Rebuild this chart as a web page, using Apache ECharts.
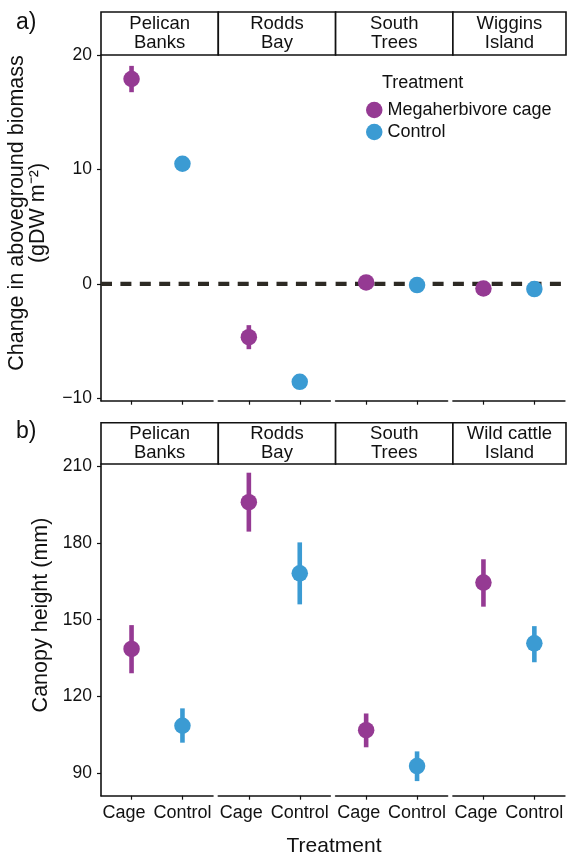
<!DOCTYPE html>
<html>
<head>
<meta charset="utf-8">
<script src="https://cdn.jsdelivr.net/npm/echarts@6/dist/echarts.min.js"></script>
<style>
html,body{margin:0;padding:0;background:#fff;}
#chart{width:567px;height:855px;}
</style>
</head>
<body>
<div id="chart"></div>
<script>
// ---------- data ----------
const sitesA = ['Pelican\nBanks', 'Rodds\nBay', 'South\nTrees', 'Wiggins\nIsland'];
const sitesB = ['Pelican\nBanks', 'Rodds\nBay', 'South\nTrees', 'Wild cattle\nIsland'];
const treatmentLabels = ['Cage', 'Control'];
const legendNames = ['Megaherbivore cage', 'Control'];

// panel a: change in aboveground biomass (gDW m^-2)
const biomassCageMean = [17.9, -4.65, 0.13, -0.4];
const biomassCageLo   = [16.75, -5.7, -0.15, -0.65];
const biomassCageHi   = [19.05, -3.6, 0.4, -0.15];
const biomassCtrlMean = [10.5, -8.55, -0.1, -0.45];
const biomassCtrlLo   = [10.25, -8.8, -0.35, -0.7];
const biomassCtrlHi   = [10.75, -8.3, 0.15, -0.2];
const biomassTicks = [-10, 0, 10, 20];

// panel b: canopy height (mm)
const heightCageMean = [138.6, 195.9, 106.9, 164.5];
const heightCageLo   = [129.1, 184.4, 100.2, 155.1];
const heightCageHi   = [147.9, 207.4, 113.4, 173.6];
const heightCtrlMean = [108.6, 168.1, 92.85, 140.8];
const heightCtrlLo   = [102.0, 156.0, 87.0, 133.4];
const heightCtrlHi   = [115.4, 180.2, 98.6, 147.5];
const heightTicks = [90, 120, 150, 180, 210];

// ---------- style / layout ----------
const PURPLE = '#953a93';
const BLUE = '#3b9bd3';
const INK = '#111111';
const FONT = '"Liberation Sans", Arial, Helvetica, sans-serif';
const FACET_LEFT0 = 101, FACET_STEP = 117.3, FACET_W = 112, RIGHT_EDGE = 566;
const panels = [
  {top: 55, height: 345.7, stripTop: 12, yMin: -10.2, yMax: 20.0, ticks: biomassTicks, sites: sitesA,
   cage: [biomassCageMean, biomassCageLo, biomassCageHi], ctrl: [biomassCtrlMean, biomassCtrlLo, biomassCtrlHi],
   zeroLine: true, showX: false},
  {top: 464, height: 331.7, stripTop: 422.7, yMin: 81.3, yMax: 210.8, ticks: heightTicks, sites: sitesB,
   cage: [heightCageMean, heightCageLo, heightCageHi], ctrl: [heightCtrlMean, heightCtrlLo, heightCtrlHi],
   zeroLine: false, showX: true}
];

const grid = [], xAxis = [], yAxis = [], series = [], graphic = [], extraX = [];

function errRender(color) {
  return function (params, api) {
    const x = api.value(0);
    const p1 = api.coord([x, api.value(1)]);
    const p2 = api.coord([x, api.value(2)]);
    return {type: 'line', shape: {x1: p1[0], y1: p1[1], x2: p2[0], y2: p2[1]},
            style: {stroke: color, lineWidth: 4.6}};
  };
}
const labelStyle = {fontFamily: FONT, fontSize: 18, color: INK, margin: 8};

panels.forEach((P, pi) => {
  for (let f = 0; f < 4; f++) {
    const idx = grid.length;
    const left = FACET_LEFT0 + f * FACET_STEP;
    grid.push({left: left, top: P.top, width: FACET_W, height: P.height});
    xAxis.push({
      type: 'value', gridIndex: idx, min: 0.4, max: 2.6, position: 'bottom',
      axisLine: {show: true, onZero: false, lineStyle: {color: INK, width: 1.6}},
      axisTick: {show: true, length: 4, customValues: [1, 2], lineStyle: {color: INK, width: 1.2}},
      axisLabel: Object.assign({show: P.showX, customValues: [1], padding: [0, 15, 0, 0],
        formatter: () => treatmentLabels[0]}, labelStyle),
      splitLine: {show: false}
    });
    if (P.showX) {
      extraX.push({
        type: 'value', gridIndex: idx, min: 0.4, max: 2.6, position: 'bottom',
        axisLine: {show: false, onZero: false}, axisTick: {show: false},
        axisLabel: Object.assign({show: true, customValues: [2], formatter: () => treatmentLabels[1]}, labelStyle),
        splitLine: {show: false}
      });
    }
    yAxis.push({
      type: 'value', gridIndex: idx, min: P.yMin, max: P.yMax, show: f === 0,
      axisLine: {show: true, lineStyle: {color: INK, width: 1.6}},
      axisTick: {show: true, length: 4, customValues: P.ticks, lineStyle: {color: INK, width: 1.2}},
      axisLabel: {customValues: P.ticks, margin: 9, fontFamily: FONT, fontSize: 17.5, color: INK,
        formatter: v => String(v).replace('-', '\u2212')},
      splitLine: {show: false}
    });
    if (P.zeroLine) {
      series.push({type: 'line', xAxisIndex: idx, yAxisIndex: idx, silent: true, symbol: 'none',
        data: [[0.4, 0], [2.6, 0]], z: 1,
        lineStyle: {color: '#2d2a24', width: 4.2, type: [11, 8.4]}});
    }
    const sets = [[P.cage, PURPLE, 1, legendNames[0]], [P.ctrl, BLUE, 2, legendNames[1]]];
    sets.forEach(([arr, color, xv, name]) => {
      series.push({type: 'custom', xAxisIndex: idx, yAxisIndex: idx, silent: true, z: 2,
        renderItem: errRender(color), encode: {x: 0, y: [1, 2]},
        data: [[xv, arr[1][f], arr[2][f]]]});
    });
    sets.forEach(([arr, color, xv, name]) => {
      series.push({type: 'scatter', name: name, xAxisIndex: idx, yAxisIndex: idx, z: 3,
        symbol: 'circle', symbolSize: 16.5, itemStyle: {color: color, opacity: 1},
        data: [[xv, arr[0][f]]]});
    });
    // strip
    const sLeft = left;
    const sRight = f < 3 ? FACET_LEFT0 + (f + 1) * FACET_STEP : RIGHT_EDGE;
    graphic.push({type: 'rect', silent: true,
      shape: {x: sLeft, y: P.stripTop, width: sRight - sLeft, height: P.top - P.stripTop},
      style: {fill: '#fff', stroke: INK, lineWidth: 1.6}});
    graphic.push({type: 'text', silent: true, x: (sLeft + sRight) / 2, y: (P.stripTop + P.top) / 2,
      style: {text: P.sites[f], font: '18.5px ' + FONT, fill: INK, align: 'center', verticalAlign: 'middle', lineHeight: 18.5}});
  }
});
extraX.forEach(a => xAxis.push(a));

// panel labels and axis titles
graphic.push({type: 'text', x: 16, y: 23, style: {text: 'a)', font: '23px ' + FONT, fill: INK, verticalAlign: 'middle'}});
graphic.push({type: 'text', x: 16, y: 432, style: {text: 'b)', font: '23px ' + FONT, fill: INK, verticalAlign: 'middle'}});
graphic.push({type: 'text', x: 28, y: 213, rotation: Math.PI / 2,
  style: {text: 'Change in aboveground biomass\n(gDW m\u207B\u00B2)', font: '21.5px ' + FONT, fill: INK,
          align: 'center', verticalAlign: 'middle', lineHeight: 21}});
graphic.push({type: 'text', x: 41, y: 615, rotation: Math.PI / 2,
  style: {text: 'Canopy height (mm)', font: '21.5px ' + FONT, fill: INK, align: 'center', verticalAlign: 'middle'}});
graphic.push({type: 'text', x: 334, y: 846,
  style: {text: 'Treatment', font: '21px ' + FONT, fill: INK, align: 'center', verticalAlign: 'middle'}});

const chart = echarts.init(document.getElementById('chart'), null, {renderer: 'canvas'});
chart.setOption({
  animation: false,
  backgroundColor: '#fff',
  title: {text: 'Treatment', left: 382, top: 74, padding: 0,
    textStyle: {fontFamily: FONT, fontSize: 18, fontWeight: 'normal', color: INK}},
  legend: {data: legendNames, orient: 'vertical', left: 366, top: 101, padding: 0,
    itemWidth: 16.5, itemHeight: 16.5, itemGap: 4, icon: 'circle', selectedMode: false,
    textStyle: {fontFamily: FONT, fontSize: 18, color: INK}},
  grid, xAxis, yAxis, series, graphic
});
</script>
</body>
</html>
